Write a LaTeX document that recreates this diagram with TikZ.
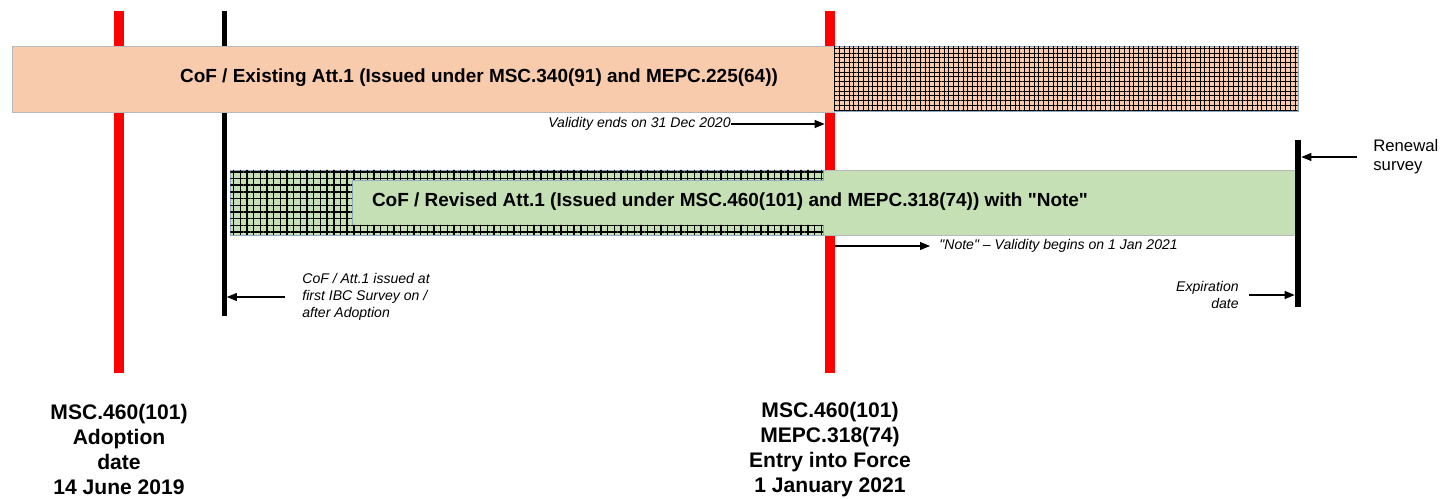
\documentclass[tikz,border=0pt]{standalone}
\usepackage{fontspec}
\setmainfont{Liberation Sans}[Ligatures=TeXOff]
\usetikzlibrary{arrows.meta, patterns.meta}

\definecolor{peach}{HTML}{F8CBAD}
\definecolor{leaf}{HTML}{C5E0B4}
\definecolor{hatchedge}{HTML}{8EA9C1}

\begin{document}
\begin{tikzpicture}[
	x=0.02cm, y=-0.02cm,
	redmark/.style={fill=red, inner sep=0pt, minimum width=2mm, minimum height=7.24cm},
	blackmark/.style={fill=black, inner sep=0pt, minimum width=1mm},
	bar/.style={draw=gray!55, line width=0.4pt, inner sep=0pt},
	crosshatch/.style 2 args={
		postaction={pattern={Lines[distance=#1, line width=#2]}},
		postaction={pattern={Lines[angle=90, distance=#1, line width=#2]}}},
	bartext/.style={font=\fontsize{10.8}{13}\selectfont\bfseries},
	note/.style={font=\fontsize{8}{9.5}\selectfont\itshape, inner sep=0pt},
	datelabel/.style={font=\fontsize{12}{14.2}\selectfont\bfseries, align=center},
	arrow/.style={-{Triangle[length=2mm, width=1.6mm]}, line width=0.6pt}
	]
	
	\useasboundingbox (0,0) rectangle (1452,499);
	
	% ======================
	% Time marks
	% ======================
	\node[redmark] (adopt) at (119,192) {};
	\node[blackmark, minimum height=6.1cm] (first) at (224,163.5) {};
	\node[redmark] (force) at (830,192) {};
	
	% ======================
	% Existing Att.1
	% ======================
	\node[bar, fill=peach, minimum width=16.44cm, minimum height=1.32cm] (old) at (423,79) {};
	\node[bar, draw=hatchedge, fill=peach, crosshatch={2.7pt}{0.55pt},
		minimum width=9.28cm, minimum height=1.3cm] (oldext) at (1066,78.5) {};
	\node[bartext] (oldtxt) at (479,78) {CoF / Existing Att.1 (Issued under MSC.340(91) and MEPC.225(64))};
	
	% ======================
	% Revised Att.1
	% ======================
	\node[bar, fill=leaf, minimum width=21.3cm, minimum height=1.3cm] (new) at (762.5,202.5) {};
	% hatched head and edge strips
	\path[draw=hatchedge, line width=0.4pt, crosshatch={3.8pt}{0.8pt}]
		(230,170) -- (823,170) -- (823,180) -- (352,180) -- (352,225)
		-- (823,225) -- (823,235) -- (230,235) -- cycle;
	\node[bartext] (newtxt) at (730,202) {CoF / Revised Att.1 (Issued under MSC.460(101) and MEPC.318(74)) with "Note"};
	
	\node[blackmark, minimum width=1.2mm, minimum height=3.34cm] (expire) at (1298,223.5) {};
	
	% labels
	\node[note, anchor=east] (ends) at (731,124) {Validity ends on 31 Dec 2020};
	\node[note, anchor=west] (begins) at (939,246) {"Note" – Validity begins on 1 Jan 2021};
	\node[note, anchor=west, align=left] (issued) at (302,297) {CoF / Att.1 issued at\\first IBC Survey on /\\after Adoption};
	\node[note, anchor=east, align=right] (expiry) at (1239,295) {Expiration\\date};
	\node[font=\fontsize{9.5}{10.8}\selectfont, inner sep=0pt, anchor=west, align=left] (renewal) at (1373,157) {Renewal\\survey};
	
	\draw[arrow] (ends.east) -- (ends.east -| force.west);
	\draw[arrow, shorten >=1.8mm] (begins.west -| force.east) -- (begins.west);
	\draw[arrow, shorten <=3.4mm] (issued.west) -- (issued.west -| first.east);
	\draw[arrow, shorten <=2mm] (expiry.east) -- (expiry.east -| expire.west);
	\draw[arrow, shorten <=3.2mm] (renewal.west) -- (renewal.west -| expire.east);
	
	% ======================
	% Dates
	% ======================
	\node[datelabel] (adoption) at (119,449.5) {MSC.460(101)\\Adoption\\date\\14 June 2019};
	\node[datelabel] (eif) at (830,449.5) {MSC.460(101)\\MEPC.318(74)\\Entry into Force\\1 January 2021};
	
\end{tikzpicture}
\end{document}
